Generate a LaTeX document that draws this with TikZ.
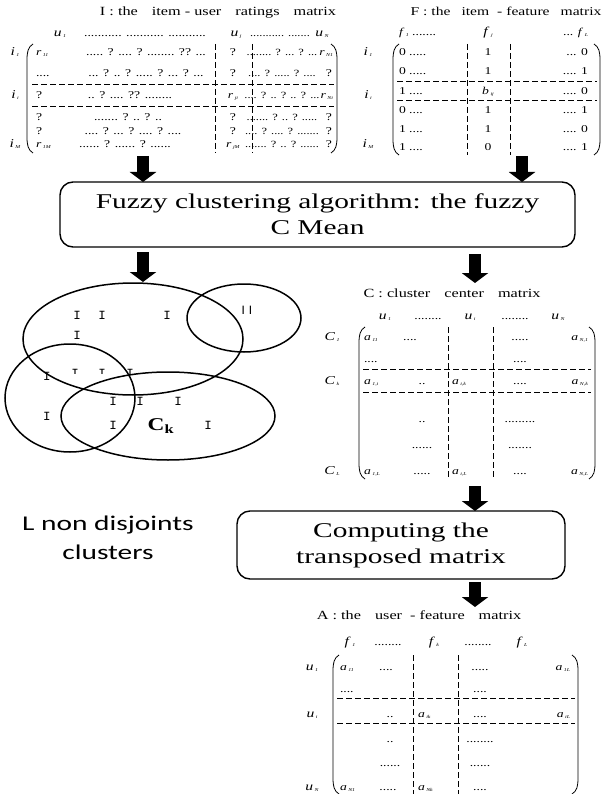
\documentclass[tikz,border=0pt]{standalone}
\usepackage{fontspec}
\setmainfont[FakeStretch=1.3]{Liberation Serif}
\newfontfamily\boxfont[FakeStretch=1.4]{Liberation Serif}
\newfontfamily\calfont[FakeStretch=1.4]{Carlito}
\newfontfamily\monoI{Liberation Mono}
\newfontfamily\sansI{Carlito}
\usetikzlibrary{arrows.meta}
\newcommand\sv[2]{\textit{#1}\kern1.5pt\raisebox{-1pt}{\fontsize{4.5}{5}\selectfont\textit{#2}}}
\newcommand\lpar[3]{\draw[parl] ({#1+6},#2) .. controls ({#1+1},{#2+3}) and (#1,{#2+8}) .. (#1,{#2+16}) -- (#1,{#3-16}) .. controls (#1,{#3-8}) and ({#1+1},{#3-3}) .. ({#1+6},#3);}
\newcommand\rpar[3]{\draw[parl] ({#1-6},#2) .. controls ({#1-1},{#2+3}) and (#1,{#2+8}) .. (#1,{#2+16}) -- (#1,{#3-16}) .. controls (#1,{#3-8}) and ({#1-1},{#3-3}) .. ({#1-6},#3);}
% entry: name, x, y, anchor, text
\newcommand\mE[5]{\node[ent,anchor=#4] (#1) at (#2,#3) {#5};}
\begin{document}
\begin{tikzpicture}[x=1pt,y=-1pt,
  every node/.style={inner sep=0pt,outer sep=0pt},
  ttl/.style={font=\fontsize{12.5}{14}\selectfont, anchor=base},
  ent/.style={font=\fontsize{10.5}{12}\selectfont, anchor=base},
  entn/.style={font=\fontsize{9.5}{12}\selectfont, anchor=base},
  hdr/.style={font=\fontsize{12}{14}\selectfont, anchor=base},
  dsh/.style={dash pattern=on 6pt off 3pt, line width=0.7pt},
  parl/.style={line width=0.8pt},
  blk/.style={line width=12pt, -{Triangle[length=10pt,width=26pt]}},
  procbox/.style={draw, line width=1.4pt, rounded corners=13pt, align=center,
     font=\boxfont\fontsize{21}{26}\selectfont},
  ell/.style={line width=1.5pt},
  imark/.style={font=\monoI\fontsize{12.5}{12}\selectfont},
]
\useasboundingbox (0,0) rectangle (610,794);

% ---------------- Matrix I ----------------
\node[ttl] (Ititle) at (218,16) {I : the\hspace{14pt}item - user\hspace{14pt}ratings\hspace{14pt}matrix};
\node[hdr] (Ih1) at (60,37) {\sv{u}{1}};
\mE{Ih2}{145}{37}{base}{........... ........... ...........}
\node[hdr] (Ih3) at (236,37) {\sv{u}{j}};
\node[entn] (Ih4) at (280,37) {........... .......};
\node[hdr] (Ih5) at (322,37) {\sv{u}{N}};
\node[hdr] (Il1) at (15,56) {\sv{i}{1}};
\node[hdr] (Il2) at (15,99) {\sv{i}{i}};
\node[hdr] (Il3) at (15,148) {\sv{i}{M}};
\lpar{27}{44}{153}
\rpar{337}{44}{153}
\draw[dsh] (32,84) -- (334,84);
\draw[dsh] (32,106) -- (334,106);
\draw[dsh] (215,44) -- (215,153);
\draw[dsh] (252,44) -- (252,153);
\mE{Ia1}{36}{56}{base west}{\sv{r}{11}}
\mE{Ia2}{36}{77}{base west}{....}
\mE{Ia3}{36}{99}{base west}{?}
\mE{Ia4}{36}{121}{base west}{?}
\mE{Ia5}{36}{135}{base west}{?}
\mE{Ia6}{36}{148}{base west}{\sv{r}{1M}}
\mE{Ib1}{146}{56}{base}{..... ? .... ? ........ ?? ...}
\mE{Ib2}{146}{77}{base}{... ? .. ? ..... ? ... ? ...}
\mE{Ib3}{130}{99}{base}{.. ? .... ?? ........}
\mE{Ib4}{128}{121}{base}{....... ? .. ? ..}
\mE{Ib5}{133}{135}{base}{.... ? ... ? .... ? ....}
\mE{Ib6}{125}{148}{base}{...... ? ...... ? ......}
\mE{Ic1}{233}{56}{base}{?}
\mE{Ic2}{233}{77}{base}{?}
\mE{Ic3}{233}{99}{base}{\sv{r}{ji}}
\mE{Ic4}{233}{121}{base}{?}
\mE{Ic5}{233}{135}{base}{?}
\mE{Ic6}{233}{148}{base}{\sv{r}{jM}}
\node[entn] (Id1) at (282,56) {........ ? ... ? ...};
\node[entn] (Id2) at (282,77) {.... ? ..... ? ....};
\node[entn] (Id3) at (282,99) {.... ? .. ? .. ? ...};
\node[entn] (Id4) at (282,121) {....... ? .. ? .....};
\node[entn] (Id5) at (282,135) {.... ? .... ? .......};
\node[entn] (Id6) at (282,148) {....... ? .. ? ......};
\mE{Ie1}{333}{56}{base east}{\sv{r}{N1}}
\mE{Ie2}{332}{77}{base east}{?}
\mE{Ie3}{333}{99}{base east}{\sv{r}{Ni}}
\mE{Ie4}{332}{121}{base east}{?}
\mE{Ie5}{332}{135}{base east}{?}
\mE{Ie6}{332}{148}{base east}{?}

% ---------------- Matrix F ----------------
\node[ttl, font=\fontsize{12}{14}\selectfont] (Ftitle) at (506,16) {F : the\hspace{11pt}item\hspace{8pt}- feature\hspace{11pt}matrix};
\mE{Fh1}{399}{36}{base west}{\sv{f}{1} .......}
\node[hdr] (Fh2) at (488,36) {\sv{f}{j}};
\mE{Fh3}{588}{36}{base east}{... \sv{f}{L}}
\node[hdr] (Fl1) at (368,56) {\sv{i}{1}};
\node[hdr] (Fl2) at (368,99) {\sv{i}{i}};
\node[hdr] (Fl3) at (368,148) {\sv{i}{M}};
\lpar{393}{44}{155}
\rpar{600}{44}{155}
\draw[dsh] (397,81) -- (597,81);
\draw[dsh] (397,100.5) -- (597,100.5);
\draw[dsh] (467,44) -- (467,155);
\draw[dsh] (510,44) -- (510,155);
\mE{Fa1}{399}{56}{base west}{0 .....}
\mE{Fa2}{399}{75}{base west}{0 .....}
\mE{Fa3}{399}{95}{base west}{1 ....}
\mE{Fa4}{399}{114}{base west}{0 ....}
\mE{Fa5}{399}{133}{base west}{1 ....}
\mE{Fa6}{399}{151}{base west}{1 ....}
\mE{Fb1}{488}{56}{base}{1}
\mE{Fb2}{488}{75}{base}{1}
\mE{Fb3}{488}{95}{base}{\sv{b}{ij}}
\mE{Fb4}{488}{114}{base}{1}
\mE{Fb5}{488}{133}{base}{1}
\mE{Fb6}{488}{151}{base}{0}
\mE{Fc1}{588}{56}{base east}{... 0}
\mE{Fc2}{588}{75}{base east}{.... 1}
\mE{Fc3}{588}{95}{base east}{.... 0}
\mE{Fc4}{588}{114}{base east}{.... 1}
\mE{Fc5}{588}{133}{base east}{.... 0}
\mE{Fc6}{588}{151}{base east}{.... 1}

% ---------------- Box 1 ----------------
\node[procbox, minimum width=515pt, minimum height=65pt] (fcm) at (317.5,214.5)
  {Fuzzy clustering algorithm: the fuzzy\\C Mean};
\coordinate (a1s) at (143,156);
\coordinate (a2s) at (522,156);
\draw[blk] (a1s) -- (a1s |- fcm.north);
\draw[blk] (a2s) -- (a2s |- fcm.north);
\coordinate (a3e) at (143,282);
\coordinate (a4e) at (475,283);
\path (a3e |- fcm.south) ++(0,5) coordinate (a3s);
\draw[blk] (a3s) -- (a3e);
\path (a4e |- fcm.south) ++(0,7) coordinate (a4s);
\draw[blk] (a4s) -- (a4e);

% ---------------- Clusters ----------------
\draw[ell] (133,339) ellipse [x radius=110, y radius=56];
\draw[ell] (244,318) ellipse [x radius=57, y radius=34];
\draw[ell] (70,398) ellipse [x radius=65, y radius=54];
\draw[ell] (168,416) ellipse [x radius=107, y radius=44];
\node[imark] (im1) at (77,315) {I};
\node[imark] (im2) at (102,315) {I};
\node[imark] (im3) at (167,315) {I};
\node[imark] (im4) at (77,335) {I};
\node[imark] (im5) at (47,376) {I};
\node[imark] (im6) at (113,401) {I};
\node[imark] (im7) at (140,401) {I};
\node[imark] (im8) at (178,401) {I};
\node[imark] (im9) at (47,416) {I};
\node[imark] (im10) at (113,425) {I};
\node[imark] (im11) at (208,425) {I};
\begin{scope}
  \clip (0,0) rectangle (610,373);
  \node[imark] (ih1) at (75,373) {I};
  \node[imark] (ih2) at (102,373) {I};
  \node[imark] (ih3) at (130,373) {I};
\end{scope}
\node[font=\sansI\fontsize{13}{13}\selectfont] (ii) at (247,310) {I\hspace{4pt}I};
\node[font=\fontsize{18}{18}\selectfont\bfseries] (ck) at (161,426) {C\textsubscript{k}};
\node[font=\calfont\fontsize{21}{29}\selectfont, align=center] (lnd) at (108,538) {L non disjoints\\clusters};

% ---------------- Matrix C ----------------
\node[ttl] (Ctitle) at (452,297) {C : cluster\hspace{14pt}center\hspace{14pt}matrix};
\node[hdr] (Ch1) at (385,319) {\sv{u}{1}};
\mE{Ch2}{428}{319}{base}{........}
\node[hdr] (Ch3) at (470,319) {\sv{u}{i}};
\mE{Ch4}{515}{319}{base}{........}
\node[hdr] (Ch5) at (558,319) {\sv{u}{N}};
\node[hdr] (Cl1) at (332,340) {\sv{C}{1}};
\node[hdr] (Cl2) at (332,384) {\sv{C}{k}};
\node[hdr] (Cl3) at (332,474) {\sv{C}{L}};
\lpar{359}{327}{479}
\rpar{595}{327}{479}
\draw[dsh] (363,369) -- (591,369);
\draw[dsh] (363,392) -- (591,392);
\draw[dsh] (448,327) -- (448,479);
\draw[dsh] (493,327) -- (493,479);
\mE{C11}{364}{340}{base west}{\sv{a}{11}}
\mE{C12}{410}{340}{base}{....}
\mE{C14}{520}{340}{base}{.....}
\mE{C15}{588}{340}{base east}{\sv{a}{N,1}}
\mE{C21}{364}{362}{base west}{....}
\mE{C24}{520}{362}{base}{....}
\mE{C31}{364}{384}{base west}{\sv{a}{1,i}}
\mE{C32}{422}{384}{base}{..}
\mE{C33}{452}{384}{base west}{\sv{a}{i,k}}
\mE{C34}{520}{384}{base}{....}
\mE{C35}{588}{384}{base east}{\sv{a}{N,k}}
\mE{C42}{422}{422}{base}{..}
\mE{C44}{520}{422}{base}{.........}
\mE{C52}{422}{448}{base}{......}
\mE{C54}{520}{448}{base}{.......}
\mE{C61}{364}{474}{base west}{\sv{a}{1,L}}
\mE{C62}{422}{474}{base}{.....}
\mE{C63}{452}{474}{base west}{\sv{a}{i,L}}
\mE{C64}{520}{474}{base}{....}
\mE{C65}{588}{474}{base east}{\sv{a}{N,L}}

% ---------------- Box 2 ----------------
\node[procbox, minimum width=328pt, minimum height=68pt] (trn) at (401,545)
  {Computing the\\transposed matrix};
\coordinate (a5s) at (475,486);
\draw[blk] (a5s) -- (a5s |- trn.north);
\coordinate (a6e) at (475,607);
\path (a6e |- trn.south) ++(0,3) coordinate (a6s);
\draw[blk] (a6s) -- (a6e);

% ---------------- Matrix A ----------------
\node[ttl] (Atitle) at (419,619) {A : the\hspace{14pt}user\hspace{8pt}- feature\hspace{14pt}matrix};
\node[hdr] (Ah1) at (350,645) {\sv{f}{1}};
\mE{Ah2}{388}{645}{base}{........}
\node[hdr] (Ah3) at (434,645) {\sv{f}{k}};
\mE{Ah4}{478}{645}{base}{........}
\node[hdr] (Ah5) at (522,645) {\sv{f}{L}};
\node[hdr] (Al1) at (312,670) {\sv{u}{1}};
\node[hdr] (Al2) at (312,717) {\sv{u}{i}};
\node[hdr] (Al3) at (312,790) {\sv{u}{N}};
\lpar{333}{655}{794}
\rpar{578}{655}{794}
\draw[dsh] (337,698) -- (575,698);
\draw[dsh] (337,723) -- (575,723);
\draw[dsh] (413,655) -- (413,794);
\draw[dsh] (458,655) -- (458,794);
\mE{A11}{340}{670}{base west}{\sv{a}{11}}
\mE{A12}{386}{670}{base}{....}
\mE{A14}{480}{670}{base}{.....}
\mE{A15}{570}{670}{base east}{\sv{a}{1L}}
\mE{A21}{340}{692}{base west}{....}
\mE{A24}{480}{692}{base}{....}
\mE{A32}{390}{717}{base}{..}
\mE{A33}{418}{717}{base west}{\sv{a}{ik}}
\mE{A34}{480}{717}{base}{....}
\mE{A35}{570}{717}{base east}{\sv{a}{iL}}
\mE{A42}{390}{742}{base}{..}
\mE{A44}{480}{742}{base}{........}
\mE{A52}{390}{766}{base}{......}
\mE{A54}{480}{766}{base}{......}
\mE{A61}{340}{790}{base west}{\sv{a}{N1}}
\mE{A62}{388}{790}{base}{.....}
\mE{A63}{418}{790}{base west}{\sv{a}{Nk}}
\mE{A64}{480}{790}{base}{....}
\end{tikzpicture}
\end{document}
